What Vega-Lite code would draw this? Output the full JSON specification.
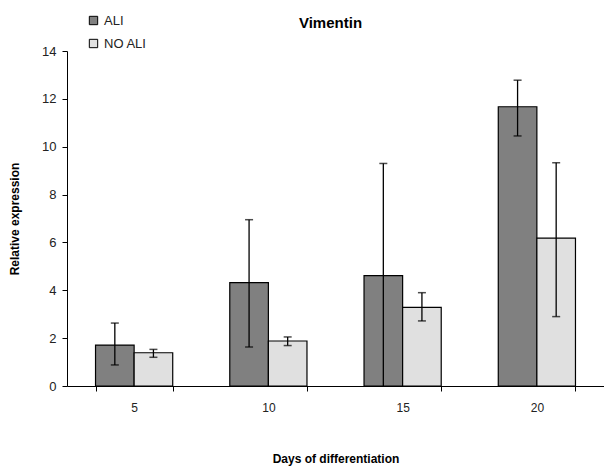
{
  "$schema": "https://vega.github.io/schema/vega-lite/v6.json",
  "autosize": "none",
  "width": 537,
  "height": 335,
  "padding": {"left": 67, "top": 51, "right": 0, "bottom": 80},
  "background": "white",
  "config": {
    "font": "Liberation Sans",
    "view": {"stroke": null}
  },
  "title": {"text": "Vimentin", "fontSize": 15, "fontWeight": "bold", "color": "#000000", "anchor": "middle", "offset": 14, "dy": 31, "dx": -5},
  "data": {
    "values": [
      {"day": "5", "group": "ALI", "value": 1.71, "lo": 0.88, "hi": 2.63},
      {"day": "5", "group": "NO ALI", "value": 1.39, "lo": 1.2, "hi": 1.53},
      {"day": "10", "group": "ALI", "value": 4.32, "lo": 1.63, "hi": 6.95},
      {"day": "10", "group": "NO ALI", "value": 1.88, "lo": 1.69, "hi": 2.05},
      {"day": "15", "group": "ALI", "value": 4.61, "lo": 0, "hi": 9.3},
      {"day": "15", "group": "NO ALI", "value": 3.29, "lo": 2.72, "hi": 3.9},
      {"day": "20", "group": "ALI", "value": 11.67, "lo": 10.45, "hi": 12.78},
      {"day": "20", "group": "NO ALI", "value": 6.18, "lo": 2.9, "hi": 9.33}
    ]
  },
  "encoding": {
    "x": {
      "field": "day", "type": "ordinal", "sort": ["5", "10", "15", "20"],
      "scale": {"paddingInner": 0.425, "paddingOuter": 0.2125},
      "axis": {
        "title": "Days of differentiation", "titleFontSize": 12, "titleFontWeight": "bold", "titleColor": "#000",
        "titlePadding": 40, "labelAngle": 0, "labelFontSize": 12, "labelColor": "#222", "labelPadding": 11,
        "tickBand": "extent", "domainColor": "#000", "tickColor": "#000", "tickSize": 5, "domainWidth": 1
      }
    },
    "xOffset": {"field": "group", "type": "nominal", "scale": {"paddingInner": 0, "paddingOuter": 0}}
  },
  "layer": [
    {
      "mark": {"type": "bar", "stroke": "#000", "strokeWidth": 1.2},
      "encoding": {
        "y": {
          "field": "value", "type": "quantitative",
          "scale": {"domain": [0, 14], "nice": false},
          "axis": {
            "title": "Relative expression", "titleFontSize": 12, "titleFontWeight": "bold", "titleColor": "#000",
            "titlePadding": 20, "values": [0, 2, 4, 6, 8, 10, 12, 14], "grid": false,
            "labelFontSize": 13, "labelColor": "#222", "labelPadding": 6,
            "domainColor": "#000", "tickColor": "#000", "tickSize": 5
          }
        },
        "fill": {
          "field": "group", "type": "nominal",
          "scale": {"domain": ["ALI", "NO ALI"], "range": ["#808080", "#e0e0e0"]},
          "legend": {
            "title": null, "orient": "none", "legendX": 20, "legendY": -37,
            "symbolType": "square", "symbolStrokeColor": "#000", "symbolStrokeWidth": 1, "symbolSize": 70,
            "labelFontSize": 13, "labelColor": "#222", "rowPadding": 9, "symbolOpacity": 1
          }
        }
      }
    },
    {
      "mark": {"type": "rule", "color": "#000", "strokeWidth": 1.3},
      "encoding": {
        "y": {"field": "lo", "type": "quantitative"},
        "y2": {"field": "hi"}
      }
    },
    {
      "mark": {"type": "tick", "color": "#000", "size": 8, "thickness": 1.5, "orient": "horizontal"},
      "encoding": {"y": {"field": "hi", "type": "quantitative"}}
    },
    {
      "transform": [{"filter": "datum.lo > 0"}],
      "mark": {"type": "tick", "color": "#000", "size": 8, "thickness": 1.5, "orient": "horizontal"},
      "encoding": {"y": {"field": "lo", "type": "quantitative"}}
    }
  ]
}
